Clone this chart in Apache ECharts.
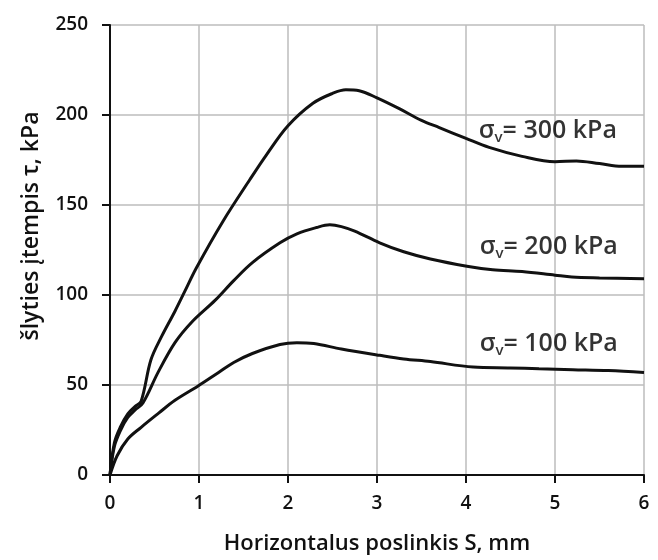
<!DOCTYPE html>
<html>
<head>
<meta charset="utf-8">
<script src="https://cdn.jsdelivr.net/npm/echarts@6/dist/echarts.min.js"></script>
<style>
  html, body { margin: 0; padding: 0; background: #fff; }
  #chart { width: 658px; height: 560px; }
</style>
</head>
<body>
<div id="chart"></div>
<script>
// Horizontal displacement S (mm) and shear stress τ (kPa) for each normal stress
const s300 = [0, 0.05, 0.12, 0.2, 0.28, 0.35, 0.46, 0.58, 0.73, 0.84, 0.97, 1.27, 1.57, 1.76, 2.0, 2.28, 2.5, 2.65, 2.8, 3.0, 3.25, 3.5, 3.7, 4.0, 4.26, 4.63, 5.0, 5.24, 5.5, 5.75, 6.0];
const t300 = [0, 18, 27, 34, 38, 41, 64, 77, 91, 102, 115, 141, 164, 178, 194, 206.5, 212, 214, 213.5, 209.5, 203.5, 197, 193, 187, 182, 177, 174, 174.5, 173, 171.5, 171.5];

const s200 = [0, 0.05, 0.12, 0.2, 0.28, 0.37, 0.54, 0.73, 0.92, 1.18, 1.39, 1.6, 1.91, 2.1, 2.32, 2.47, 2.6, 2.75, 3.03, 3.3, 3.6, 4.01, 4.3, 4.63, 5.0, 5.19, 5.5, 6.0];
const t200 = [0, 16, 25, 32, 36, 40, 57, 73.5, 85, 97, 108, 118, 129, 134, 137.5, 139, 138, 135.5, 129, 124, 120, 116, 114, 113, 111, 110, 109.5, 109];

const s100 = [0, 0.08, 0.2, 0.35, 0.55, 0.73, 0.99, 1.22, 1.39, 1.6, 1.91, 2.1, 2.29, 2.6, 3.03, 3.3, 3.6, 4.08, 4.5, 4.82, 5.2, 5.6, 6.0];
const t100 = [0, 10.7, 20, 26.5, 34.5, 41.5, 49.5, 57, 62.5, 67.5, 72.5, 73.5, 73, 70, 66.5, 64.5, 63, 60, 59.5, 59, 58.5, 58, 57];

const labelTexts = ['300 kPa', '200 kPa', '100 kPa'];
const labelS = [4.92, 4.93, 4.93];
const labelT = [191, 127, 73];

const xTicks = [0, 1, 2, 3, 4, 5, 6];
const yTicks = [0, 50, 100, 150, 200, 250];

const FONT = '"Open Sans", "Noto Sans", sans-serif';

function pairs(xs, ys) { return xs.map((x, i) => [x, ys[i]]); }

const lineStyle = { color: '#111', width: 3 };
function curve(name, xs, ys) {
  return {
    name: name, type: 'line', data: pairs(xs, ys), smooth: 0.35,
    showSymbol: false, symbol: 'none', lineStyle: lineStyle, silent: true, z: 3
  };
}

const chart = echarts.init(document.getElementById('chart'), null, { renderer: 'canvas' });
chart.setOption({
  backgroundColor: '#fff',
  animation: false,
  grid: { left: 110, right: 14, top: 25, bottom: 83, containLabel: false },
  xAxis: {
    type: 'value', min: xTicks[0], max: xTicks[xTicks.length - 1], interval: 1,
    name: 'Horizontalus poslinkis S, mm', nameLocation: 'middle', nameGap: 58,
    nameTextStyle: { fontFamily: FONT, fontSize: 22, fontWeight: 600, color: '#111' },
    axisLine: { show: true, onZero: false, lineStyle: { color: '#111', width: 2 } },
    axisTick: { show: true, length: 8, lineStyle: { color: '#111', width: 2 } },
    axisLabel: { fontFamily: FONT, fontSize: 19, fontWeight: 600, color: '#111', margin: 19 },
    splitLine: { show: true, lineStyle: { color: '#bdbdbd', width: 1.5 } }
  },
  yAxis: {
    type: 'value', min: yTicks[0], max: yTicks[yTicks.length - 1], interval: 50,
    name: 'šlyties įtempis τ, kPa', nameLocation: 'middle', nameGap: 67, nameRotate: 90,
    nameTextStyle: { fontFamily: FONT, fontSize: 23, fontWeight: 600, color: '#111', padding: [0, 0, 0, 48] },
    axisLine: { show: true, onZero: false, lineStyle: { color: '#111', width: 2 } },
    axisTick: { show: true, length: 8, lineStyle: { color: '#111', width: 2 } },
    axisLabel: { fontFamily: FONT, fontSize: 19, fontWeight: 600, color: '#111', margin: 22 },
    splitLine: { show: true, lineStyle: { color: '#bdbdbd', width: 1.5 } }
  },
  series: [
    curve('300', s300, t300),
    curve('200', s200, t200),
    curve('100', s100, t100),
    {
      type: 'scatter', symbolSize: 0, silent: true, z: 5,
      data: labelTexts.map((t, i) => ({ value: [labelS[i], labelT[i]], txt: t })),
      label: {
        show: true, position: 'inside',
        formatter: p => '{s|σ}{v|v}{s|= ' + p.data.txt + '}',
        rich: {
          s: { fontFamily: FONT, fontSize: 25, fontWeight: 600, color: '#000' },
          v: { fontFamily: FONT, fontSize: 15, fontWeight: 600, color: '#000', verticalAlign: 'bottom', padding: [14, 0, 0, 0] }
        }
      }
    }
  ]
});
</script>
</body>
</html>
